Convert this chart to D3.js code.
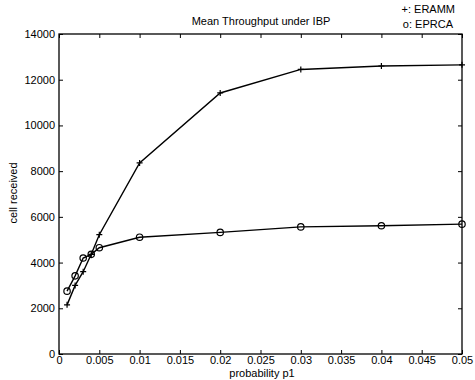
<!DOCTYPE html>
<html><head><meta charset="utf-8">
<script src="https://cdn.jsdelivr.net/npm/d3@7"></script>
<style>
body{margin:0;background:#fff;}
text{font-family:"Liberation Sans",Arial,sans-serif;fill:#000;}
</style></head>
<body><svg id="c" width="475" height="380"></svg>
<script>
const xValues = [0.001,0.002,0.003,0.004,0.005,0.01,0.02,0.03,0.04,0.05];
const erammValues = [2150,3000,3600,4360,5220,8360,11420,12450,12600,12650];
const eprcaValues = [2750,3420,4200,4360,4650,5110,5320,5560,5610,5680];
const xTicks = [0,0.005,0.01,0.015,0.02,0.025,0.03,0.035,0.04,0.045,0.05];
const yTicks = [0,2000,4000,6000,8000,10000,12000,14000];
const titleText = "Mean Throughput under IBP";
const xLabel = "probability p1";
const yLabel = "cell received";
const legend1 = "+: ERAMM";
const legend2 = "o: EPRCA";

const svg = d3.select("#c");
const L=59,R=462,T=34,B=354;
const x = d3.scaleLinear().domain([0,0.05]).range([L,R]);
const y = d3.scaleLinear().domain([0,14000]).range([B,T]);
const fmt = d => d===0 ? "0" : String(+d.toFixed(3));

svg.append("rect").attr("x",L).attr("y",T).attr("width",R-L).attr("height",B-T)
  .attr("fill","none").attr("stroke","#000").attr("stroke-width",1.3);

const tl=4;
const gb = svg.append("g").attr("transform",`translate(0,${B})`)
  .call(d3.axisBottom(x).tickValues(xTicks).tickSize(-tl).tickPadding(2).tickFormat(fmt));
const gt = svg.append("g").attr("transform",`translate(0,${T})`)
  .call(d3.axisTop(x).tickValues(xTicks).tickSize(-tl).tickFormat(""));
const gl = svg.append("g").attr("transform",`translate(${L},0)`)
  .call(d3.axisLeft(y).tickValues(yTicks).tickSize(-tl).tickPadding(4).tickFormat(d3.format("d")));
const gr = svg.append("g").attr("transform",`translate(${R},0)`)
  .call(d3.axisRight(y).tickValues(yTicks).tickSize(-tl).tickFormat(""));
[gb,gt,gl,gr].forEach(g=>{
  g.select(".domain").remove();
  g.selectAll("line").attr("stroke","#000").attr("stroke-width",1);
  g.selectAll("text").attr("font-size",11).attr("font-family","Liberation Sans, Arial, sans-serif").attr("fill","#000");
});

const line = d3.line().x((d,i)=>x(xValues[i])).y(d=>y(d));
svg.append("path").datum(erammValues).attr("d",line).attr("fill","none").attr("stroke","#000").attr("stroke-width",1.4);
svg.append("path").datum(eprcaValues).attr("d",line).attr("fill","none").attr("stroke","#000").attr("stroke-width",1.4);

const s=3;
svg.append("g").selectAll("path").data(erammValues).join("path")
  .attr("d",(d,i)=>{const cx=x(xValues[i]),cy=y(d);return `M${cx-s},${cy}H${cx+s}M${cx},${cy-s}V${cy+s}`;})
  .attr("stroke","#000").attr("stroke-width",1.2);
svg.append("g").selectAll("circle").data(eprcaValues).join("circle")
  .attr("cx",(d,i)=>x(xValues[i])).attr("cy",d=>y(d)).attr("r",3.2)
  .attr("fill","none").attr("stroke","#000").attr("stroke-width",1.2);

svg.append("text").attr("x",261).attr("y",25).attr("text-anchor","middle").attr("font-size",11).text(titleText);
svg.append("text").attr("x",455).attr("y",13).attr("text-anchor","end").attr("font-size",11).text(legend1);
svg.append("text").attr("x",453).attr("y",28).attr("text-anchor","end").attr("font-size",11).text(legend2);
svg.append("text").attr("x",262).attr("y",377).attr("text-anchor","middle").attr("font-size",11).text(xLabel);
svg.append("text").attr("transform","translate(17,193) rotate(-90)").attr("text-anchor","middle").attr("font-size",11).text(yLabel);
</script></body></html>
